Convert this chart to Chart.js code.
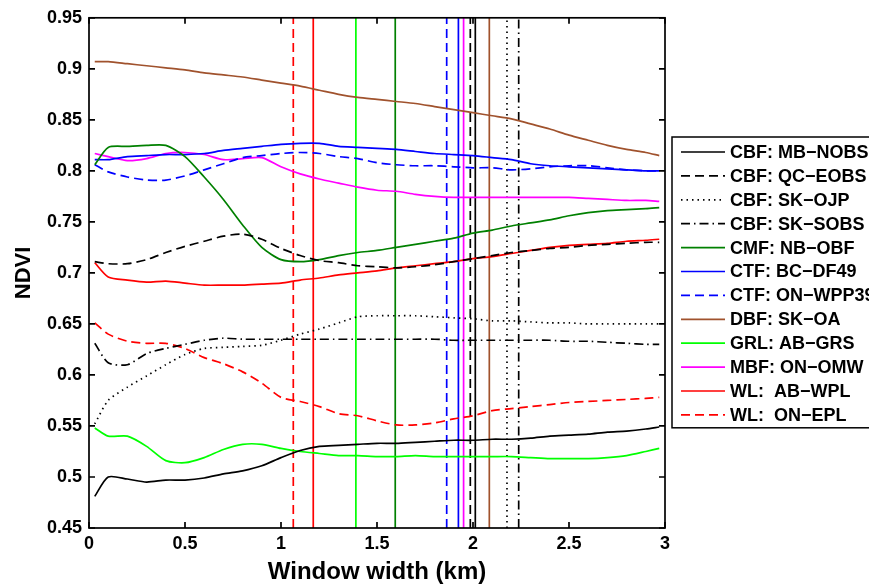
<!DOCTYPE html>
<html>
<head>
<meta charset="utf-8">
<script src="https://cdn.jsdelivr.net/npm/chart.js@4.4.1/dist/chart.umd.min.js"></script>
<style>
  html, body { margin: 0; padding: 0; background: #fff; }
  canvas { display: block; }
</style>
</head>
<body>
<canvas id="ndviChart" width="869" height="588"></canvas>
<script>
// Datos de entrada

const windowWidth = [0.03, 0.1, 0.2, 0.3, 0.4, 0.5, 0.6, 0.7, 0.8, 0.9, 1.0, 1.1, 1.2, 1.3, 1.4, 1.5,
  1.6, 1.7, 1.8, 1.9, 2.0, 2.1, 2.2, 2.3, 2.4, 2.5, 2.6, 2.7, 2.8, 2.9, 2.97];

const mbNobs = [0.481, 0.500, 0.498, 0.495, 0.497, 0.497, 0.499, 0.503, 0.506, 0.511, 0.519, 0.526, 0.530, 0.531, 0.532, 0.533,
  0.533, 0.534, 0.535, 0.536, 0.536, 0.537, 0.537, 0.538, 0.540, 0.541, 0.542, 0.544, 0.545, 0.547, 0.549];
const qcEobs = [0.711, 0.709, 0.709, 0.713, 0.720, 0.726, 0.731, 0.736, 0.738, 0.733, 0.724, 0.717, 0.712, 0.710, 0.707, 0.706,
  0.705, 0.706, 0.708, 0.711, 0.714, 0.717, 0.720, 0.722, 0.724, 0.725, 0.727, 0.728, 0.729, 0.730, 0.730];
const skOjp = [0.552, 0.575, 0.588, 0.599, 0.610, 0.620, 0.626, 0.627, 0.628, 0.629, 0.634, 0.640, 0.645, 0.651, 0.657, 0.658,
  0.658, 0.658, 0.657, 0.656, 0.655, 0.653, 0.653, 0.652, 0.651, 0.651, 0.650, 0.650, 0.650, 0.650, 0.650];
const skSobs = [0.631, 0.612, 0.610, 0.621, 0.626, 0.630, 0.634, 0.636, 0.635, 0.635, 0.635, 0.635, 0.635, 0.635, 0.635, 0.635,
  0.635, 0.635, 0.635, 0.634, 0.634, 0.634, 0.634, 0.634, 0.634, 0.633, 0.633, 0.632, 0.631, 0.630, 0.630];
const nbObf = [0.806, 0.823, 0.824, 0.825, 0.825, 0.814, 0.794, 0.772, 0.747, 0.725, 0.713, 0.711, 0.713, 0.717, 0.720, 0.722,
  0.725, 0.728, 0.731, 0.734, 0.739, 0.742, 0.746, 0.749, 0.752, 0.756, 0.759, 0.761, 0.762, 0.763, 0.764];
const bcDf49 = [0.811, 0.811, 0.814, 0.815, 0.816, 0.816, 0.817, 0.820, 0.822, 0.824, 0.826, 0.827, 0.827, 0.824, 0.823, 0.822,
  0.821, 0.819, 0.817, 0.816, 0.815, 0.813, 0.811, 0.807, 0.805, 0.804, 0.803, 0.802, 0.801, 0.800, 0.800];
const onWpp39 = [0.806, 0.799, 0.794, 0.791, 0.791, 0.795, 0.801, 0.807, 0.813, 0.815, 0.817, 0.818, 0.817, 0.814, 0.812, 0.808,
  0.806, 0.805, 0.805, 0.804, 0.803, 0.803, 0.801, 0.802, 0.804, 0.805, 0.805, 0.803, 0.801, 0.800, 0.800];
const skOa = [0.907, 0.907, 0.905, 0.903, 0.901, 0.899, 0.896, 0.894, 0.892, 0.889, 0.886, 0.883, 0.879, 0.875, 0.872, 0.870,
  0.868, 0.866, 0.863, 0.860, 0.857, 0.854, 0.851, 0.846, 0.841, 0.835, 0.830, 0.825, 0.821, 0.818, 0.815];
const abGrs = [0.548, 0.540, 0.540, 0.530, 0.516, 0.514, 0.519, 0.527, 0.532, 0.532, 0.528, 0.525, 0.523, 0.521, 0.521, 0.520,
  0.520, 0.521, 0.520, 0.520, 0.520, 0.520, 0.520, 0.519, 0.518, 0.518, 0.518, 0.519, 0.521, 0.525, 0.528];
const onOmw = [0.817, 0.814, 0.810, 0.812, 0.817, 0.818, 0.816, 0.811, 0.812, 0.813, 0.804, 0.797, 0.792, 0.788, 0.784, 0.781,
  0.780, 0.777, 0.775, 0.774, 0.774, 0.774, 0.774, 0.774, 0.774, 0.774, 0.773, 0.772, 0.771, 0.771, 0.770];
const abWpl = [0.710, 0.696, 0.693, 0.691, 0.692, 0.690, 0.688, 0.688, 0.688, 0.689, 0.690, 0.693, 0.695, 0.698, 0.700, 0.702,
  0.705, 0.707, 0.709, 0.711, 0.714, 0.716, 0.719, 0.722, 0.725, 0.727, 0.728, 0.729, 0.731, 0.732, 0.733];
const onEpl = [0.651, 0.640, 0.633, 0.631, 0.631, 0.626, 0.617, 0.611, 0.603, 0.592, 0.578, 0.574, 0.569, 0.562, 0.560, 0.555,
  0.551, 0.551, 0.553, 0.557, 0.560, 0.565, 0.567, 0.569, 0.571, 0.573, 0.574, 0.575, 0.576, 0.577, 0.578];

// ancho de ventana elegido para cada sitio (lineas verticales)
const cutoffWidth = [2.012, 1.986, 2.177, 2.238, 1.595, 1.924, 1.863, 2.085, 1.39, 1.951, 1.168, 1.064];

const siteLabels = ["CBF: MB\u2212NOBS", "CBF: QC\u2212EOBS", "CBF: SK\u2212OJP", "CBF: SK\u2212SOBS",
  "CMF: NB\u2212OBF", "CTF: BC\u2212DF49", "CTF: ON\u2212WPP39", "DBF: SK\u2212OA", "GRL: AB\u2212GRS",
  "MBF: ON\u2212OMW", "WL:  AB\u2212WPL", "WL:  ON\u2212EPL"];

const siteSeries = [mbNobs, qcEobs, skOjp, skSobs, nbObf, bcDf49, onWpp39, skOa, abGrs, onOmw, abWpl, onEpl];

const yTicks = { min: 0.45, max: 0.95, step: 0.05 };
const xTicks = { min: 0, max: 3, step: 0.5 };

// Estilos

const siteColors = ["#000000", "#000000", "#000000", "#000000", "#008000", "#0000ff",
  "#0000ff", "#a0522d", "#00ff00", "#ff00ff", "#ff0000", "#ff0000"];

const solid = [];
const dashed = [9, 5];
const dotted = [1.5, 4];
const dashDot = [9, 4, 1.5, 4];
const siteDashes = [solid, dashed, dotted, dashDot, solid, solid, dashed, solid, solid, solid, solid, dashed];

const fontFamily = "'Liberation Sans', Arial, Helvetica, sans-serif";

// Datasets

let datasets = [];

for (let i = 0; i < siteSeries.length; i++) {
  datasets.push({
    label: siteLabels[i],
    data: windowWidth.map((w, j) => ({ x: w, y: siteSeries[i][j] })),
    borderColor: siteColors[i],
    borderDash: siteDashes[i],
    borderWidth: 1.7,
    pointRadius: 0,
    tension: 0.25,
    fill: false,
  });
}

for (let i = 0; i < cutoffWidth.length; i++) {
  datasets.push({
    label: siteLabels[i] + " cutoff",
    data: [
      { x: cutoffWidth[i], y: yTicks.min },
      { x: cutoffWidth[i], y: yTicks.max },
    ],
    borderColor: siteColors[i],
    borderDash: siteDashes[i],
    borderWidth: 1.7,
    pointRadius: 0,
    fill: false,
  });
}

// Marco con ticks hacia adentro y leyenda con recuadro
const boxPlugin = {
  id: "boxPlugin",
  afterDraw(chart) {
    const ctx = chart.ctx;
    const a = chart.chartArea;
    const xs = chart.scales.x;
    const ys = chart.scales.y;
    const tickLen = 6;

    ctx.save();
    ctx.strokeStyle = "#000";
    ctx.lineWidth = 1.7;
    ctx.setLineDash([]);
    ctx.strokeRect(a.left, a.top, a.right - a.left, a.bottom - a.top);

    ctx.beginPath();
    xs.ticks.forEach((t) => {
      const px = xs.getPixelForValue(t.value);
      ctx.moveTo(px, a.bottom);
      ctx.lineTo(px, a.bottom - tickLen);
      ctx.moveTo(px, a.top);
      ctx.lineTo(px, a.top + tickLen);
    });
    ys.ticks.forEach((t) => {
      const py = ys.getPixelForValue(t.value);
      ctx.moveTo(a.left, py);
      ctx.lineTo(a.left + tickLen, py);
      ctx.moveTo(a.right, py);
      ctx.lineTo(a.right - tickLen, py);
    });
    ctx.stroke();

    // leyenda
    const boxLeft = a.right + 7;
    const boxTop = 137;
    const rowH = 23.9;
    const boxH = rowH * siteLabels.length + 4;
    ctx.lineWidth = 1.5;
    ctx.strokeRect(boxLeft, boxTop, 300, boxH);

    ctx.font = "bold 18px " + fontFamily;
    ctx.textBaseline = "middle";
    ctx.textAlign = "left";
    for (let i = 0; i < siteLabels.length; i++) {
      const rowY = boxTop + 15 + i * rowH;
      ctx.strokeStyle = siteColors[i];
      ctx.lineWidth = 1.7;
      ctx.setLineDash(siteDashes[i]);
      ctx.beginPath();
      ctx.moveTo(boxLeft + 9, rowY);
      ctx.lineTo(boxLeft + 53, rowY);
      ctx.stroke();
      ctx.setLineDash([]);
      ctx.fillStyle = "#000";
      ctx.fillText(siteLabels[i], boxLeft + 58, rowY + 1);
    }
    ctx.restore();
  },
};

const config = {
  type: "line",
  data: { datasets: datasets },
  options: {
    responsive: false,
    animation: false,
    layout: { padding: { top: 17, right: 204, bottom: 0, left: 0 } },
    plugins: {
      legend: { display: false },
      tooltip: { enabled: false },
    },
    scales: {
      x: {
        type: "linear",
        min: xTicks.min,
        max: xTicks.max,
        grid: { display: false, drawTicks: false },
        border: { display: false },
        ticks: {
          stepSize: xTicks.step,
          padding: 5,
          color: "#000",
          font: { family: fontFamily, size: 18, weight: "bold" },
          callback: (v) => String(Number(v.toFixed(2))),
        },
        title: {
          display: true,
          text: "Window width (km)",
          color: "#000",
          padding: { top: 0, bottom: 1 },
          font: { family: fontFamily, size: 24, weight: "bold" },
        },
        afterFit: (scale) => { scale.height = 60; },
      },
      y: {
        min: yTicks.min,
        max: yTicks.max,
        grid: { display: false, drawTicks: false },
        border: { display: false },
        ticks: {
          stepSize: yTicks.step,
          padding: 7,
          color: "#000",
          font: { family: fontFamily, size: 18, weight: "bold" },
          callback: (v) => String(Number(v.toFixed(2))),
        },
        title: {
          display: true,
          text: "NDVI",
          color: "#000",
          padding: { top: 11, bottom: 0 },
          font: { family: fontFamily, size: 22, weight: "bold" },
        },
        afterFit: (scale) => { scale.width = 89; },
      },
    },
  },
  plugins: [boxPlugin],
};

const ctx = document.getElementById("ndviChart").getContext("2d");
const ndviChart = new Chart(ctx, config);
</script>
</body>
</html>
